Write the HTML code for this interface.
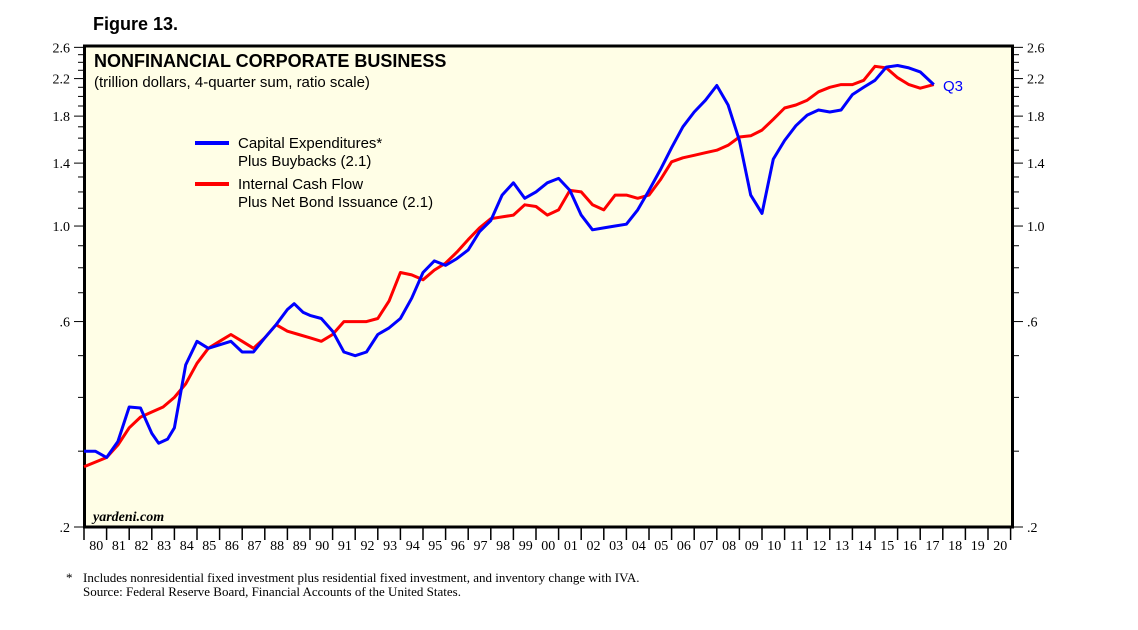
<!DOCTYPE html>
<html><head><meta charset="utf-8"><style>
body{margin:0;background:#fff;width:1138px;height:625px;overflow:hidden}
svg text{font-family:"Liberation Sans",sans-serif}
</style></head><body>
<svg width="1138" height="625">
<text x="93" y="30" font-size="18" font-weight="bold">Figure 13.</text>
<rect x="84.5" y="46" width="928" height="481" fill="#fffee6" stroke="#000" stroke-width="3"/>
<text x="94" y="67" font-size="18" font-weight="bold">NONFINANCIAL CORPORATE BUSINESS</text>
<text x="94" y="87" font-size="15">(trillion dollars, 4-quarter sum, ratio scale)</text>
<g id="axes"></g>
<g id="series"></g>
<line x1="195" y1="143" x2="229" y2="143" stroke="#0000ff" stroke-width="4"/>
<text x="238" y="148" font-size="15">Capital Expenditures*</text>
<text x="238" y="166" font-size="15">Plus Buybacks (2.1)</text>
<line x1="195" y1="184" x2="229" y2="184" stroke="#ff0000" stroke-width="4"/>
<text x="238" y="189" font-size="15">Internal Cash Flow</text>
<text x="238" y="207" font-size="15">Plus Net Bond Issuance (2.1)</text>
<text x="943" y="91" font-size="15" fill="#0000ff">Q3</text>
<text x="93" y="521" font-size="14" font-style="italic" font-weight="bold" style="font-family:'Liberation Serif',serif">yardeni.com</text>
<text x="66" y="582" font-size="13" style="font-family:'Liberation Serif',serif">*</text>
<text x="83" y="582" font-size="13" style="font-family:'Liberation Serif',serif">Includes nonresidential fixed investment plus residential fixed investment, and inventory change with IVA.</text>
<text x="83" y="596" font-size="13" style="font-family:'Liberation Serif',serif">Source: Federal Reserve Board, Financial Accounts of the United States.</text>
</svg>
<script>
const yearsBlue=[1980,1980.5,1981,1981.5,1982,1982.5,1983,1983.3,1983.7,1984,1984.5,1985,1985.5,1986,1986.5,1987,1987.5,1988,1988.5,1989,1989.3,1989.7,1990,1990.5,1991,1991.5,1992,1992.5,1993,1993.5,1994,1994.5,1995,1995.5,1996,1996.5,1997,1997.5,1998,1998.5,1999,1999.5,2000,2000.5,2001,2001.5,2002,2002.5,2003,2003.5,2004,2004.5,2005,2005.5,2006,2006.5,2007,2007.5,2008,2008.5,2009,2009.5,2010,2010.5,2011,2011.5,2012,2012.5,2013,2013.5,2014,2014.5,2015,2015.5,2016,2016.5,2017,2017.6];
const capexValues=[.30,.30,.29,.316,.38,.378,.33,.313,.32,.34,.476,.54,.52,.53,.54,.51,.51,.55,.59,.64,.66,.63,.62,.61,.57,.51,.50,.51,.56,.58,.61,.68,.78,.83,.81,.84,.88,.97,1.03,1.18,1.26,1.16,1.20,1.26,1.29,1.21,1.06,.98,.99,1.0,1.01,1.09,1.21,1.35,1.52,1.70,1.84,1.96,2.12,1.91,1.58,1.18,1.07,1.43,1.58,1.71,1.81,1.86,1.84,1.86,2.02,2.10,2.18,2.34,2.36,2.33,2.28,2.13];
const yearsRed=[1980,1981,1981.5,1982,1982.5,1983,1983.5,1984,1984.5,1985,1985.5,1986,1986.5,1987,1987.5,1988,1988.5,1989,1989.5,1990,1990.5,1991,1991.5,1992,1992.5,1993,1993.5,1994,1994.5,1995,1995.5,1996,1996.5,1997,1997.5,1998,1998.5,1999,1999.5,2000,2000.5,2001,2001.5,2002,2002.5,2003,2003.5,2004,2004.5,2005,2005.5,2006,2006.5,2007,2007.5,2008,2008.5,2009,2009.5,2010,2010.5,2011,2011.5,2012,2012.5,2013,2013.5,2014,2014.5,2015,2015.5,2016,2016.5,2017,2017.6];
const cashflowValues=[.276,.29,.31,.34,.36,.37,.38,.40,.43,.48,.52,.54,.56,.54,.52,.55,.59,.57,.56,.55,.54,.56,.60,.60,.60,.61,.67,.78,.77,.75,.79,.82,.87,.93,.99,1.04,1.05,1.06,1.12,1.11,1.06,1.09,1.21,1.20,1.12,1.09,1.18,1.18,1.16,1.18,1.28,1.41,1.44,1.46,1.48,1.50,1.54,1.61,1.62,1.67,1.77,1.88,1.91,1.96,2.05,2.10,2.13,2.13,2.18,2.35,2.33,2.21,2.13,2.09,2.13];
const yTickLabels=[2.6,2.2,1.8,1.4,1.0,.6,.2];
const yearLabels=["80","81","82","83","84","85","86","87","88","89","90","91","92","93","94","95","96","97","98","99","00","01","02","03","04","05","06","07","08","09","10","11","12","13","14","15","16","17","18","19","20"];
const NS="http://www.w3.org/2000/svg";
const X0=84,XW=22.6,Y0=527,K=187,VMIN=0.2;
const xs=y=>X0+(y-1980)*XW;
const ys=v=>Y0-K*Math.log(v/VMIN);
const axes=document.getElementById('axes');
function mk(t,a,p){const e=document.createElementNS(NS,t);for(const k in a)e.setAttribute(k,a[k]);p.appendChild(e);return e;}
for(let v=2;v<=26;v++){const y=ys(v/10);const major=yTickLabels.some(t=>Math.abs(t*10-v)<.01);const len=major?10:6;
 const l1=mk('line',{x1:X0-len,x2:X0,y1:y,y2:y,stroke:'#000','stroke-width':1},axes);
 
 
 const l2=mk('line',{x1:1013,x2:1013+len,y1:y,y2:y,stroke:'#000','stroke-width':1},axes);
 
 }
yTickLabels.forEach(t=>{const s=t>=1?t.toFixed(1):String(t).replace(/^0/,'');const y=ys(t)+5;
 const a=mk('text',{x:70,y:y,'font-size':14,'text-anchor':'end',style:"font-family:'Liberation Serif',serif"},axes);a.textContent=s;
 
 
 const b=mk('text',{x:1027,y:y,'font-size':14,style:"font-family:'Liberation Serif',serif"},axes);b.textContent=s;
 
 });
yearLabels.forEach((lab,i)=>{const x=xs(1980+i);
 const l=mk('line',{x1:x,x2:x,y1:527,y2:540,stroke:'#000','stroke-width':1.5},axes);
 
 
 const t=mk('text',{x:x+XW/2+1,y:550,'font-size':14,'text-anchor':'middle',style:"font-family:'Liberation Serif',serif"},axes);t.textContent=lab;
 
 });
const l=mk('line',{x1:xs(2021),x2:xs(2021),y1:527,y2:540,stroke:'#000','stroke-width':1.5},axes);


const ser=document.getElementById('series');
function line(xsArr,vals,col,name){const d=xsArr.map((y,i)=>(i?'L':'M')+xs(y).toFixed(1)+','+ys(vals[i]).toFixed(1)).join('');
 const p=mk('path',{d:d,fill:'none',stroke:col,'stroke-width':3,'stroke-linejoin':'round'},ser);
 
 }
line(yearsRed,cashflowValues,'#ff0000','cashflow-line');
line(yearsBlue,capexValues,'#0000ff','capex-line');
</script>
</body></html>
